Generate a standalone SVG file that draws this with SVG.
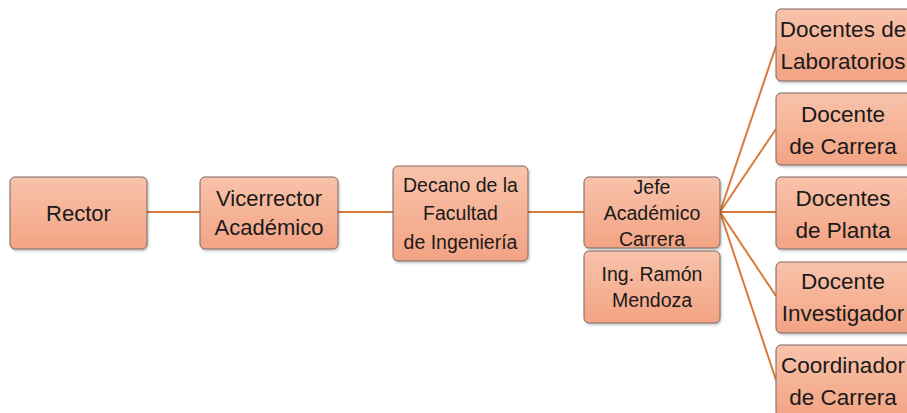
<svg xmlns="http://www.w3.org/2000/svg" width="907" height="413" viewBox="0 0 907 413">
<defs>
<linearGradient id="g" x1="0" y1="0" x2="0" y2="1">
<stop offset="0" stop-color="#F8C3AB"/>
<stop offset="1" stop-color="#F3A383"/>
</linearGradient>
<filter id="sh" x="-10%" y="-10%" width="130%" height="130%">
<feDropShadow dx="1" dy="1.5" stdDeviation="1.2" flood-color="#000" flood-opacity="0.25"/>
</filter>
</defs>
<style>
.box{fill:url(#g);stroke:#7A6A64;stroke-width:1;filter:url(#sh)}
.t{font-family:"Liberation Sans",Arial,sans-serif;fill:#1a1a1a;text-anchor:middle}
.c{stroke:#D9793A;stroke-width:2;fill:none}
</style>
<rect width="907" height="413" fill="#fff"/>
<g id="connectors">
<line class="c" x1="147" y1="212" x2="200" y2="212"/>
<line class="c" x1="338" y1="212" x2="393" y2="212"/>
<line class="c" x1="528" y1="212" x2="584" y2="212"/>
<line class="c" x1="720" y1="212" x2="776" y2="46"/>
<line class="c" x1="720" y1="212" x2="776" y2="129"/>
<line class="c" x1="720" y1="212" x2="776" y2="212"/>
<line class="c" x1="720" y1="212" x2="776" y2="296"/>
<line class="c" x1="720" y1="212" x2="776" y2="380"/>
</g>
<g id="rector">
<rect class="box" x="10" y="177" width="137" height="72" rx="5"/>
<text class="t" x="78.5" y="221" font-size="22">Rector</text>
</g>
<g id="vicerrector">
<rect class="box" x="200" y="177" width="138" height="72" rx="5"/>
<text class="t" x="269" y="206" font-size="22">Vicerrector</text>
<text class="t" x="269" y="235" font-size="22">Académico</text>
</g>
<g id="decano">
<rect class="box" x="393" y="166" width="135" height="95" rx="5"/>
<text class="t" x="460.5" y="192" font-size="19.5">Decano de la</text>
<text class="t" x="460.5" y="220" font-size="19.5">Facultad</text>
<text class="t" x="460.5" y="249" font-size="19.5">de Ingeniería</text>
</g>
<g id="jefe">
<rect class="box" x="584" y="177" width="136" height="71" rx="5"/>
<text class="t" x="652" y="194" font-size="19.5">Jefe</text>
<text class="t" x="652" y="220" font-size="19.5">Académico</text>
<text class="t" x="652" y="246" font-size="19.5">Carrera</text>
</g>
<g id="ramon">
<rect class="box" x="584" y="251" width="136" height="72" rx="5"/>
<text class="t" x="652" y="281" font-size="19.5">Ing. Ramón</text>
<text class="t" x="652" y="307" font-size="19.5">Mendoza</text>
</g>
<g id="laboratorios">
<rect class="box" x="776" y="9" width="136" height="72" rx="5"/>
<text class="t" x="843" y="37" font-size="22.5">Docentes de</text>
<text class="t" x="843" y="69" font-size="22.5">Laboratorios</text>
</g>
<g id="docente-carrera">
<rect class="box" x="776" y="93" width="136" height="72" rx="5"/>
<text class="t" x="843" y="122" font-size="22.5">Docente</text>
<text class="t" x="843" y="154" font-size="22.5">de Carrera</text>
</g>
<g id="planta">
<rect class="box" x="776" y="177" width="136" height="72" rx="5"/>
<text class="t" x="843" y="206" font-size="22.5">Docentes</text>
<text class="t" x="843" y="238" font-size="22.5">de Planta</text>
</g>
<g id="investigador">
<rect class="box" x="776" y="262" width="136" height="71" rx="5"/>
<text class="t" x="843" y="289" font-size="22.5">Docente</text>
<text class="t" x="843" y="321" font-size="22.5">Investigador</text>
</g>
<g id="coordinador">
<rect class="box" x="776" y="345" width="136" height="72" rx="5"/>
<text class="t" x="843" y="373" font-size="22.5">Coordinador</text>
<text class="t" x="843" y="405" font-size="22.5">de Carrera</text>
</g>
</svg>
